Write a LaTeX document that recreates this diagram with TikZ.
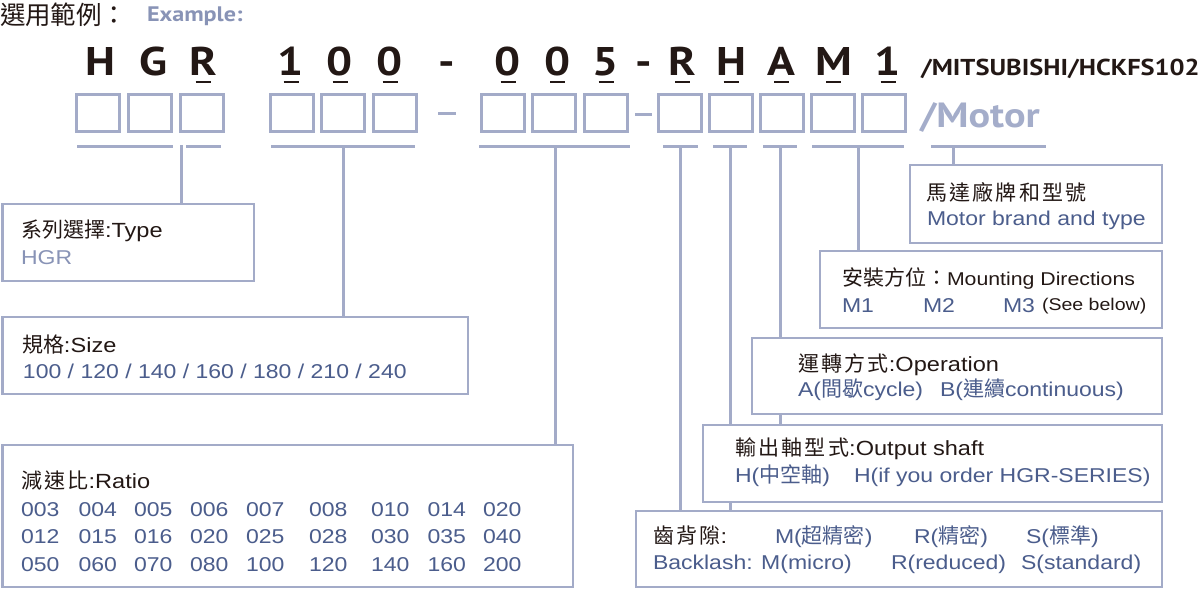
\documentclass[tikz,border=0pt]{standalone}
\usepackage{fontspec}
\setmainfont{Liberation Sans}[FakeStretch=1.15]
\newfontfamily\cjkf{Noto Sans CJK TC}
\newfontfamily\cjkls{Noto Sans CJK TC}[LetterSpace=11]
\newfontfamily\codef{PT Sans}[FakeStretch=1.15]
\newcommand\fsz[1]{\fontsize{#1}{#1}\selectfont}
\newcommand\zh[1]{{\cjkf\fsz{21}#1}}
\newcommand\zhs[1]{{\cjkls\fsz{21}#1}}
\definecolor{ink}{HTML}{231815}
\definecolor{lineb}{HTML}{A3ABC8}
\definecolor{tblue}{HTML}{4B5D8C}
\definecolor{lblue}{HTML}{8893B6}
\definecolor{motorc}{HTML}{A4ADCA}
\pgfdeclarelayer{bg}
\pgfdeclarelayer{lines}
\pgfsetlayers{bg,lines,main}
\tikzset{
  txt/.style={anchor=base west, inner sep=0pt, outer sep=0pt, font=\fsz{20}, text=ink},
  hd/.style={font=\fsz{20.5}},
  bt/.style={text=tblue},
  box/.style={draw=lineb, line width=2.8pt, fill=white, inner sep=0pt, outer sep=0pt, anchor=north west},
  conn/.style={draw=lineb, line width=3pt},
  sqr/.style={draw=lineb, line width=2.8pt},
  codech/.style={anchor=base, inner sep=0pt, outer sep=0pt, font=\codef\bfseries\fsz{40}, text=ink},
  uline/.style={draw=ink, line width=2.4pt},
}
\begin{document}
\begin{tikzpicture}[x=1pt,y=-1pt]
\begin{pgfonlayer}{bg}
\fill[white] (0,0) rectangle (1200,590);
\end{pgfonlayer}
\useasboundingbox (0,0) rectangle (1200,590);

% header
\node[txt, font=\cjkf\fsz{25.5}] (hdr) at (0,24.5) {選用範例：};
\node[txt, font=\codef\bfseries\fsz{21}, text=lblue] (ex) at (147,21) {Example:};

% code letters
\foreach \x/\c/\n in {100.5/H/c1, 153.5/G/c2, 203/R/c3, 291/1/c4, 340/0/c5, 390/0/c6, 446.5/-/c7, 508/0/c8, 557.5/0/c9, 606/5/c10, 644/-/c11, 682.5/R/c12, 731/H/c13, 781.5/A/c14, 833.5/M/c15, 888/1/c16}
  \node[codech] (\n) at (\x,75) {\c};
\foreach \n in {c3,c4,c5,c6,c8,c9,c10,c12,c13,c14,c15,c16}
  \draw[uline] ([xshift=-7.5pt,yshift=-6.8pt]\n.base) -- ([xshift=7.5pt,yshift=-6.8pt]\n.base);
\node[txt, font=\codef\bfseries\fsz{23}] (brand) at (921,75) {/MITSUBISHI/HCKFS102};

% squares
\foreach \x in {75,127,179,269,320,372,480,531,583,657,708,759,810,861}
  \draw[sqr] (\x+1.4,94.4) rectangle (\x+44.6,131.6);
\draw[conn] (438,113.5) -- (456,113.5);
\draw[conn] (635,114) -- (652,114);
\node[txt, font=\codef\bfseries\fsz{35}, text=motorc] (motor) at (920,127.5) {/Motor};

% brackets
\foreach \a/\b in {77/173, 186/221, 271/415, 479/630, 663/698, 713/747, 763/797, 812/904, 931/1046}
  \draw[conn] (\a,146) -- (\b,146);
\coordinate (v1) at (181,145);
\coordinate (v2) at (343,145);
\coordinate (v3) at (555,145);
\coordinate (v4) at (680,145);
\coordinate (v5) at (730,145);
\coordinate (v6) at (780,145);
\coordinate (v7) at (858,145);
\coordinate (v8) at (953,145);

% boxes
\node[box, minimum width=251.5pt, minimum height=77pt] (b1) at (2.5,204) {};
\node[box, minimum width=465.5pt, minimum height=77pt] (b2) at (2.5,317) {};
\node[box, minimum width=570.5pt, minimum height=142pt] (b3) at (2.5,445) {};
\node[box, minimum width=252pt, minimum height=78pt] (bm) at (910,165) {};
\node[box, minimum width=342pt, minimum height=77pt] (bd) at (820,251) {};
\node[box, minimum width=410pt, minimum height=76pt] (bo) at (752,338) {};
\node[box, minimum width=459pt, minimum height=77pt] (bs) at (703,425) {};
\node[box, minimum width=526pt, minimum height=76pt] (bb) at (636,511) {};

\begin{pgfonlayer}{lines}
\draw[conn] (v1) -- (v1 |- b1.north);
\draw[conn] (v2) -- (v2 |- b2.north);
\draw[conn] (v3) -- (v3 |- b3.north);
\draw[conn] (v4) -- (v4 |- bb.north);
\draw[conn] (v5) -- (v5 |- bb.north);
\draw[conn] (v6) -- (v6 |- bs.north);
\draw[conn] (v7) -- (v7 |- bd.north);
\draw[conn] (v8) -- (v8 |- bm.north);
\end{pgfonlayer}

% box 1
\node[txt, hd] (t1a) at (21,237) {\zh{系列選擇}:Type};
\node[txt, text=lblue] (t1b) at (21,264) {HGR};
% box 2
\node[txt, hd] (t2a) at (22,352) {\zh{規格}:Size};
\node[txt, bt] (t2b) at (23,378) {100 / 120 / 140 / 160 / 180 / 210 / 240};
% box 3
\node[txt, hd] (t3a) at (21,488) {\zhs{減速比}:Ratio};
\foreach \y/\r in {516/1, 543/2, 571/3}{
  \ifcase\r\or
    \def\vals{003,004,005,006,007,008,010,014,020}\or
    \def\vals{012,015,016,020,025,028,030,035,040}\or
    \def\vals{050,060,070,080,100,120,140,160,200}\fi
  \foreach \v [count=\i] in \vals {
    \pgfmathsetmacro\xx{{21,78.5,134,190,246,309,371,427.5,483}[\i-1]}
    \node[txt, bt] (r\r-\i) at (\xx,\y) {\v};
  }
}
% motor box
\node[txt] (tma) at (926,200) {\zhs{馬達廠牌和型號}};
\node[txt, bt] (tmb) at (927,225) {Motor brand and type};
% mounting
\node[txt, font=\fsz{18.5}] (tda) at (842,285) {\zh{安裝方位：}Mounting Directions};
\node[txt, bt] (tdm1) at (842,312) {M1};
\node[txt, bt] (tdm2) at (923,312) {M2};
\node[txt, bt] (tdm3) at (1003,312) {M3};
\node[txt, font=\fsz{17}] (tds) at (1042,310) {(See below)};
% operation
\node[txt, hd] (toa) at (798,371) {\zhs{運轉方式}:Operation};
\node[txt, bt] (tob) at (798,396) {A(\zh{間歇}cycle)};
\node[txt, bt] (toc) at (940,396) {B(\zh{連續}continuous)};
% output shaft
\node[txt, hd] (tsa) at (735,455) {\zhs{輸出軸型式}:Output shaft};
\node[txt, bt] (tsb) at (735,482) {H(\zh{中空軸})};
\node[txt, bt] (tsc) at (854,482) {H(if you order HGR-SERIES)};
% backlash
\node[txt, hd] (tba) at (653,543) {\zhs{齒背隙}:};
\node[txt, bt] (tbb) at (775,543) {M(\zh{超精密})};
\node[txt, bt] (tbc) at (914,543) {R(\zh{精密})};
\node[txt, bt] (tbd) at (1026,543) {S(\zh{標準})};
\node[txt, bt] (tbe) at (653,569) {Backlash: M(micro)};
\node[txt, bt] (tbf) at (891,569) {R(reduced)};
\node[txt, bt] (tbg) at (1021,569) {S(standard)};
\end{tikzpicture}
\end{document}
